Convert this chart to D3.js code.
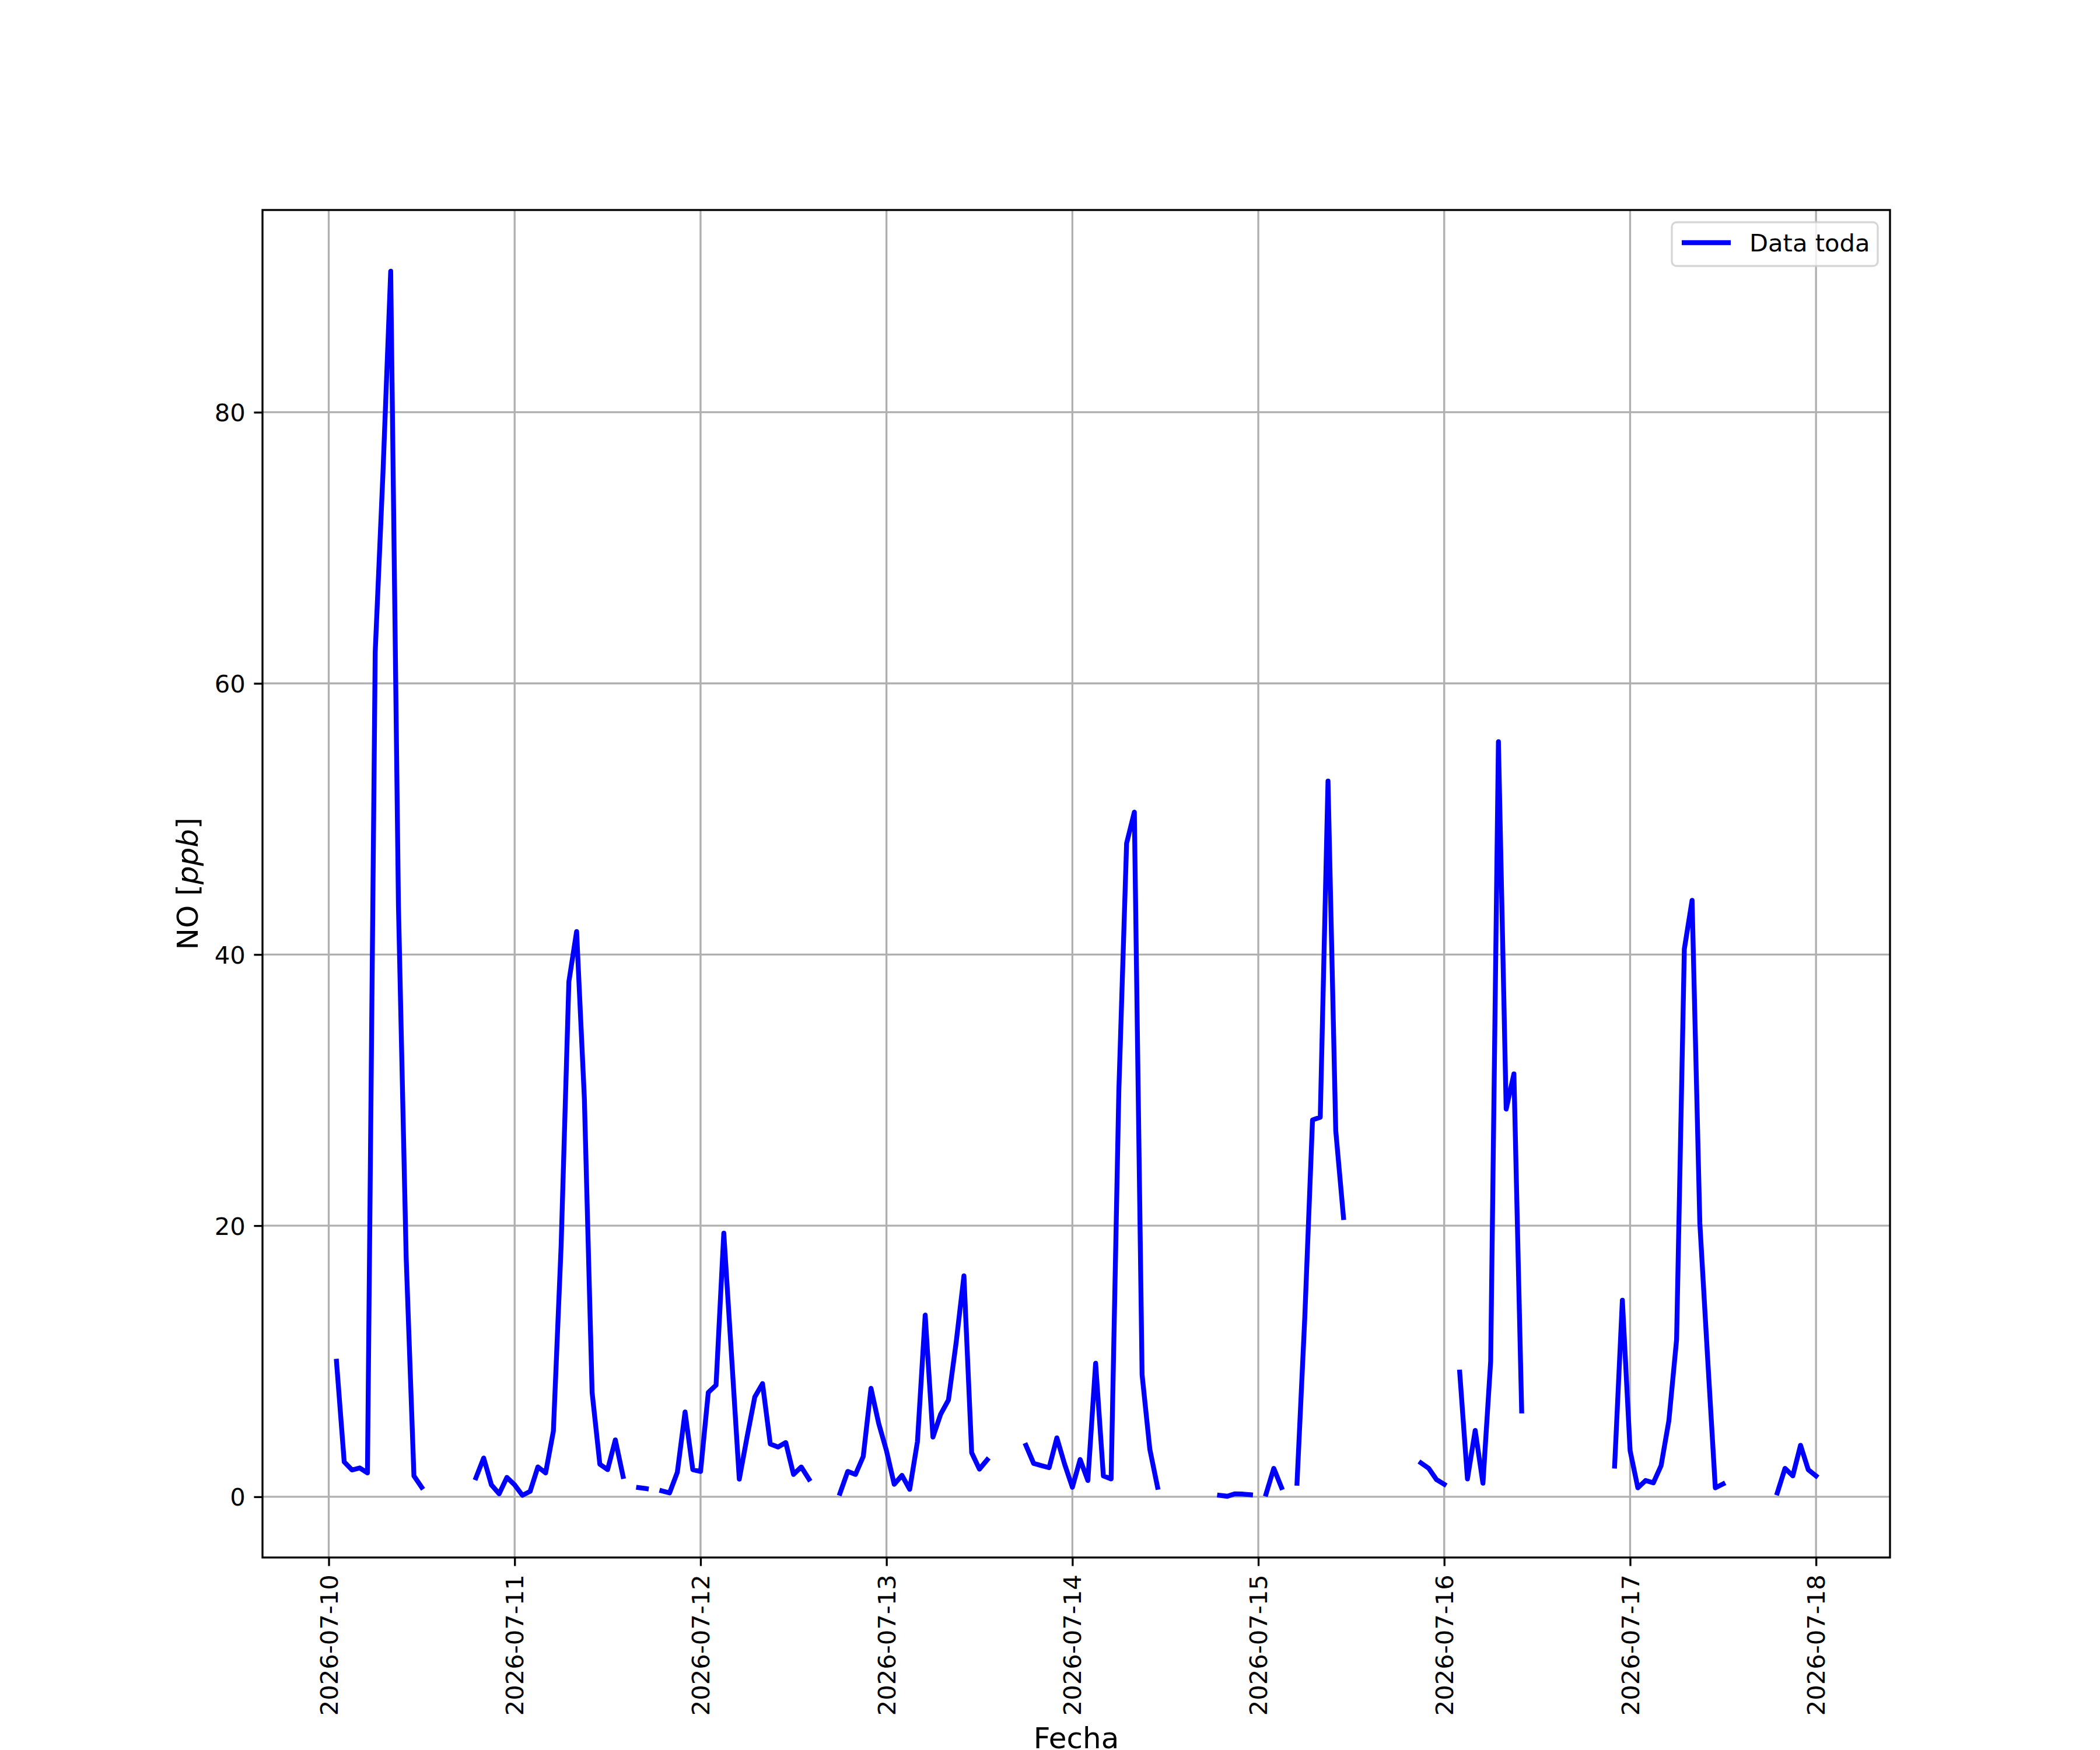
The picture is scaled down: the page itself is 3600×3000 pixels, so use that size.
<!DOCTYPE html>
<html>
<head>
<meta charset="utf-8">
<script src="https://cdn.jsdelivr.net/npm/d3@7"></script>
<style>
    body { margin: 0; background: #ffffff; }
    svg { display: block; font-family: "DejaVu Sans", sans-serif; }
</style>
</head>
<body>
<div class="no_timeseries"></div>
<script>
// NO [ppb], one value per hour, 00:00 .. 23:00 (null = no data)
const day10 = [null, 10.0, 2.57, 1.98, 2.13, 1.76, 62.3, 75.5, 90.4, 43.6, 17.6, 1.54, 0.7, null, null, null, null, null, null, 1.4, 2.86, 0.88, 0.22, 1.43];
const day11 = [0.88, 0.11, 0.4, 2.2, 1.76, 4.84, 18.5, 38.0, 41.7, 29.4, 7.7, 2.4, 2.0, 4.2, 1.5, null, 0.68, 0.6, null, 0.44, 0.29, 1.8, 6.26, 2.0];
const day12 = [1.87, 7.7, 8.24, 19.45, 10.4, 1.3, 4.4, 7.36, 8.35, 3.9, 3.67, 4.0, 1.65, 2.2, 1.3, null, null, null, 0.26, 1.87, 1.65, 2.97, 8.0, 5.4];
const day13 = [3.4, 0.92, 1.58, 0.55, 4.07, 13.4, 4.4, 6.1, 7.14, 11.4, 16.3, 3.25, 2.04, 2.73, null, null, null, null, 3.8, 2.46, 2.3, 2.15, 4.35, 2.4];
const day14 = [0.7, 2.75, 1.2, 9.85, 1.54, 1.32, 30.0, 48.2, 50.5, 9.0, 3.5, 0.7, null, null, null, null, null, null, null, 0.11, 0.04, 0.22, 0.2, 0.15];
const day15 = [null, 0.2, 2.1, 0.68, null, 1.0, 13.2, 27.8, 28.0, 52.8, 27.0, 20.6, null, null, null, null, null, null, null, null, null, 2.5, 2.1, 1.27];
const day16 = [0.92, null, 9.2, 1.32, 4.9, 1.0, 10.0, 55.7, 28.6, 31.2, 6.33, null, null, null, null, null, null, null, null, null, null, null, 2.26, 14.5];
const day17 = [3.4, 0.66, 1.2, 1.03, 2.3, 5.6, 11.6, 40.4, 44.0, 20.2, 10.3, 0.66, 0.95, null, null, null, null, null, null, 0.29, 2.1, 1.54, 3.8, 2.0];
const day18 = [1.54];

const dayStarts = ['2026-07-10', '2026-07-11', '2026-07-12', '2026-07-13', '2026-07-14', '2026-07-15', '2026-07-16', '2026-07-17', '2026-07-18'];
const dayValues = [day10, day11, day12, day13, day14, day15, day16, day17, day18];

const seriesName = 'Data toda';
const xLabel = 'Fecha';
const yTicks = [0, 20, 40, 60, 80];

const width = 3600;
const height = 3000;
const margin = {
    top: 360,
    bottom: 330,
    left: 450,
    right: 360,
};
const fontPx = 41.67;   // 10pt at 300 dpi
const labelPx = 50;     // 12pt
const lw = 3.33;        // 0.8pt
const tickLen = 14.6;

const parseDay = d3.utcParse('%Y-%m-%d');

const data = [];
dayValues.forEach((vals, i) => {
    const start = parseDay(dayStarts[i]);
    vals.forEach((v, h) => {
        data.push({ date: d3.utcHour.offset(start, h), value: v });
    });
});
const valid = data.filter(d => d.value !== null);

// matplotlib style 5% margins
const tExt = d3.extent(valid, d => d.date);
const tPad = (tExt[1] - tExt[0]) * 0.05;
const vExt = d3.extent(valid, d => d.value);
const vPad = (vExt[1] - vExt[0]) * 0.05;

const xScale = d3.scaleUtc()
    .domain([new Date(+tExt[0] - tPad), new Date(+tExt[1] + tPad)])
    .range([margin.left, width - margin.right]);

const yScale = d3.scaleLinear()
    .domain([vExt[0] - vPad, vExt[1] + vPad])
    .range([height - margin.bottom, margin.top]);

const xTicks = dayStarts.map(parseDay);

const svg = d3.select('.no_timeseries')
    .append('svg')
    .attr('width', width)
    .attr('height', height);

svg.append('rect')
    .attr('width', width)
    .attr('height', height)
    .attr('fill', '#ffffff');

// grid
svg.append('g')
    .selectAll('line')
    .data(xTicks)
    .enter()
    .append('line')
    .attr('x1', d => xScale(d))
    .attr('x2', d => xScale(d))
    .attr('y1', margin.top)
    .attr('y2', height - margin.bottom)
    .attr('stroke', '#b0b0b0')
    .attr('stroke-width', lw);

svg.append('g')
    .selectAll('line')
    .data(yTicks)
    .enter()
    .append('line')
    .attr('x1', margin.left)
    .attr('x2', width - margin.right)
    .attr('y1', d => yScale(d))
    .attr('y2', d => yScale(d))
    .attr('stroke', '#b0b0b0')
    .attr('stroke-width', lw);

// the series, gaps where there is no data
const line = d3.line()
    .defined(d => d.value !== null)
    .x(d => xScale(d.date))
    .y(d => yScale(d.value));

svg.append('path')
    .datum(data)
    .attr('d', line)
    .attr('fill', 'none')
    .attr('stroke', '#0000ff')
    .attr('stroke-width', 8.33)
    .attr('stroke-linejoin', 'round')
    .attr('stroke-linecap', 'square');

// axes
const xAxis = svg.append('g')
    .attr('transform', `translate(0, ${height - margin.bottom})`)
    .call(d3.axisBottom(xScale)
        .tickValues(xTicks)
        .tickFormat(d3.utcFormat('%Y-%m-%d'))
        .tickSize(tickLen)
        .tickSizeOuter(0));

xAxis.select('.domain').remove();
xAxis.selectAll('line').attr('stroke', '#000').attr('stroke-width', lw);
xAxis.selectAll('text')
    .attr('transform', 'rotate(-90)')
    .attr('x', -(tickLen * 2))
    .attr('y', 0)
    .attr('dy', '0.35em')
    .attr('text-anchor', 'end')
    .attr('fill', '#000')
    .style('font-family', '"DejaVu Sans", sans-serif')
    .style('font-size', fontPx + 'px');

const yAxis = svg.append('g')
    .attr('transform', `translate(${margin.left}, 0)`)
    .call(d3.axisLeft(yScale)
        .tickValues(yTicks)
        .tickFormat(d3.format('d'))
        .tickSize(tickLen)
        .tickPadding(tickLen)
        .tickSizeOuter(0));

yAxis.select('.domain').remove();
yAxis.selectAll('line').attr('stroke', '#000').attr('stroke-width', lw);
yAxis.selectAll('text')
    .attr('fill', '#000')
    .attr('dy', '0.36em')
    .style('font-family', '"DejaVu Sans", sans-serif')
    .style('font-size', fontPx + 'px');

// frame
svg.append('rect')
    .attr('x', margin.left)
    .attr('y', margin.top)
    .attr('width', width - margin.left - margin.right)
    .attr('height', height - margin.top - margin.bottom)
    .attr('fill', 'none')
    .attr('stroke', '#000')
    .attr('stroke-width', lw);

// labels
svg.append('text')
    .attr('x', (margin.left + width - margin.right) / 2)
    .attr('y', 2997)
    .attr('text-anchor', 'middle')
    .style('font-size', labelPx + 'px')
    .text(xLabel);

const yLab = svg.append('text')
    .attr('transform', `translate(339, ${(margin.top + height - margin.bottom) / 2}) rotate(-90)`)
    .attr('text-anchor', 'middle')
    .style('font-size', labelPx + 'px');
yLab.append('tspan').text('NO [');
yLab.append('tspan').style('font-style', 'italic').text('ppb');
yLab.append('tspan').text(']');

// legend
const legend = svg.append('g')
    .attr('class', 'legend');

legend.append('rect')
    .attr('x', 2866)
    .attr('y', 381)
    .attr('width', 3219 - 2866)
    .attr('height', 456 - 381)
    .attr('rx', 8)
    .attr('fill', '#ffffff')
    .attr('fill-opacity', 0.8)
    .attr('stroke', '#cccccc')
    .attr('stroke-opacity', 0.8)
    .attr('stroke-width', lw);

legend.append('line')
    .attr('x1', 2883)
    .attr('x2', 2967)
    .attr('y1', 416)
    .attr('y2', 416)
    .attr('stroke', '#0000ff')
    .attr('stroke-width', 8.33)
    .attr('stroke-linecap', 'butt');

legend.append('text')
    .attr('x', 2999)
    .attr('y', 431)
    .style('font-size', fontPx + 'px')
    .text(seriesName);
</script>
</body>
</html>
